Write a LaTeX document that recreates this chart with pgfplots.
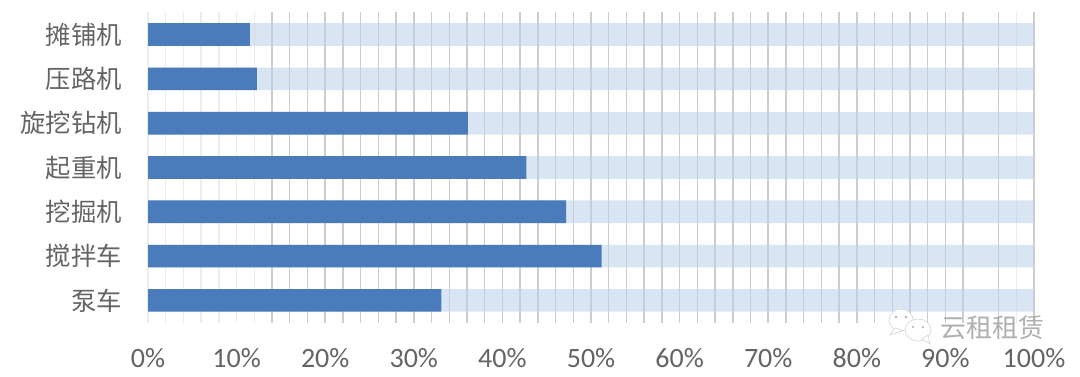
\documentclass[border=0pt]{standalone}
\usepackage{pgfplots}
\usepackage{pgfplotstable}
\usepackage{fontspec}
\pgfplotsset{compat=1.18}
\setmainfont{Carlito}
\newfontfamily\cjk{Noto Sans CJK SC}
\definecolor{barD}{RGB}{74,124,187}
\definecolor{barL}{RGB}{190,210,234}
\definecolor{gridA}{RGB}{205,205,205}
\definecolor{gridB}{RGB}{236,236,236}
\definecolor{txt}{RGB}{100,100,100}
\definecolor{wm}{RGB}{175,175,175}
\pgfplotstableread{
y used rest
0 33.1 100
1 51.2 100
2 47.2 100
3 42.7 100
4 36.1 100
5 12.3 100
6 11.5 100
}\datatable
\begin{document}
\begin{tikzpicture}[x=0.75pt,y=0.75pt]
\path[use as bounding box] (0,0) rectangle (1080,376);
\begin{axis}[
  at={(111pt,40.1pt)}, anchor=south west,
  scale only axis, width=664.5pt, height=232.6pt,
  xmin=0, xmax=100, ymin=-0.5, ymax=6.5,
  axis x line=bottom, axis y line=left,
  x axis line style={draw=none,-}, y axis line style={draw=none,-},
  xtick={0,10,...,100},
  xticklabel={\pgfmathprintnumber{\tick}\%},
  xticklabel style={font=\fontsize{21}{21}\selectfont, text=txt, anchor=base, yshift=-33.5pt},
  ytick={0,1,2,3,4,5,6},
  yticklabels={泵车,搅拌车,挖掘机,起重机,旋挖钻机,压路机,摊铺机},
  yticklabel style={font=\fontsize{19}{19}\cjk, text=txt, anchor=east, xshift=-16pt},
  major tick length=0pt, minor tick length=0pt,
  /pgf/number format/assume math mode=true,
  minor xtick={0,2,4,6,8,10,12,98},
  xminorgrids=true,
  minor grid style={gridB,line width=1.1pt},
  extra x ticks={14,16,18,20,22,24,26,28,30,32,34,36,38,40,42,44,46,48,50,52,54,56,58,60,62,64,66,68,70,72,74,76,78,80,82,84,86,88,90,92,96,100},
  extra x tick labels={},
  extra x tick style={grid=major, major grid style={gridA,line width=1.1pt}, tick style={draw=none}},
  xbar, bar shift=0pt,
  bar width=17pt,
]
\addplot[fill=barL, fill opacity=0.58, draw=none] table[x=rest,y=y]{\datatable};
\addplot[fill=barD, draw=none] table[x=used,y=y]{\datatable};
\end{axis}
% watermark
\node[anchor=west,text=wm,inner sep=0pt,font=\fontsize{19.5}{19.5}\cjk] at (940,48) {云租租赁};
\fill[white,draw=wm!50,line width=0.5pt] (901,56) ellipse (12 and 11);
\fill[white,draw=wm!50,line width=0.5pt] (895,48) -- (890,41) -- (903,45.5) -- cycle;
\fill[white,draw=wm!50,line width=0.5pt] (918,46) ellipse (13 and 11);
\fill[white,draw=wm!50,line width=0.5pt] (922,37) -- (930,32) -- (928,41) -- cycle;
\fill[wm] (896,59) circle (1.3) (906,59) circle (1.3) (913,49) circle (1.2) (923,49) circle (1.2);
\end{tikzpicture}
\end{document}
